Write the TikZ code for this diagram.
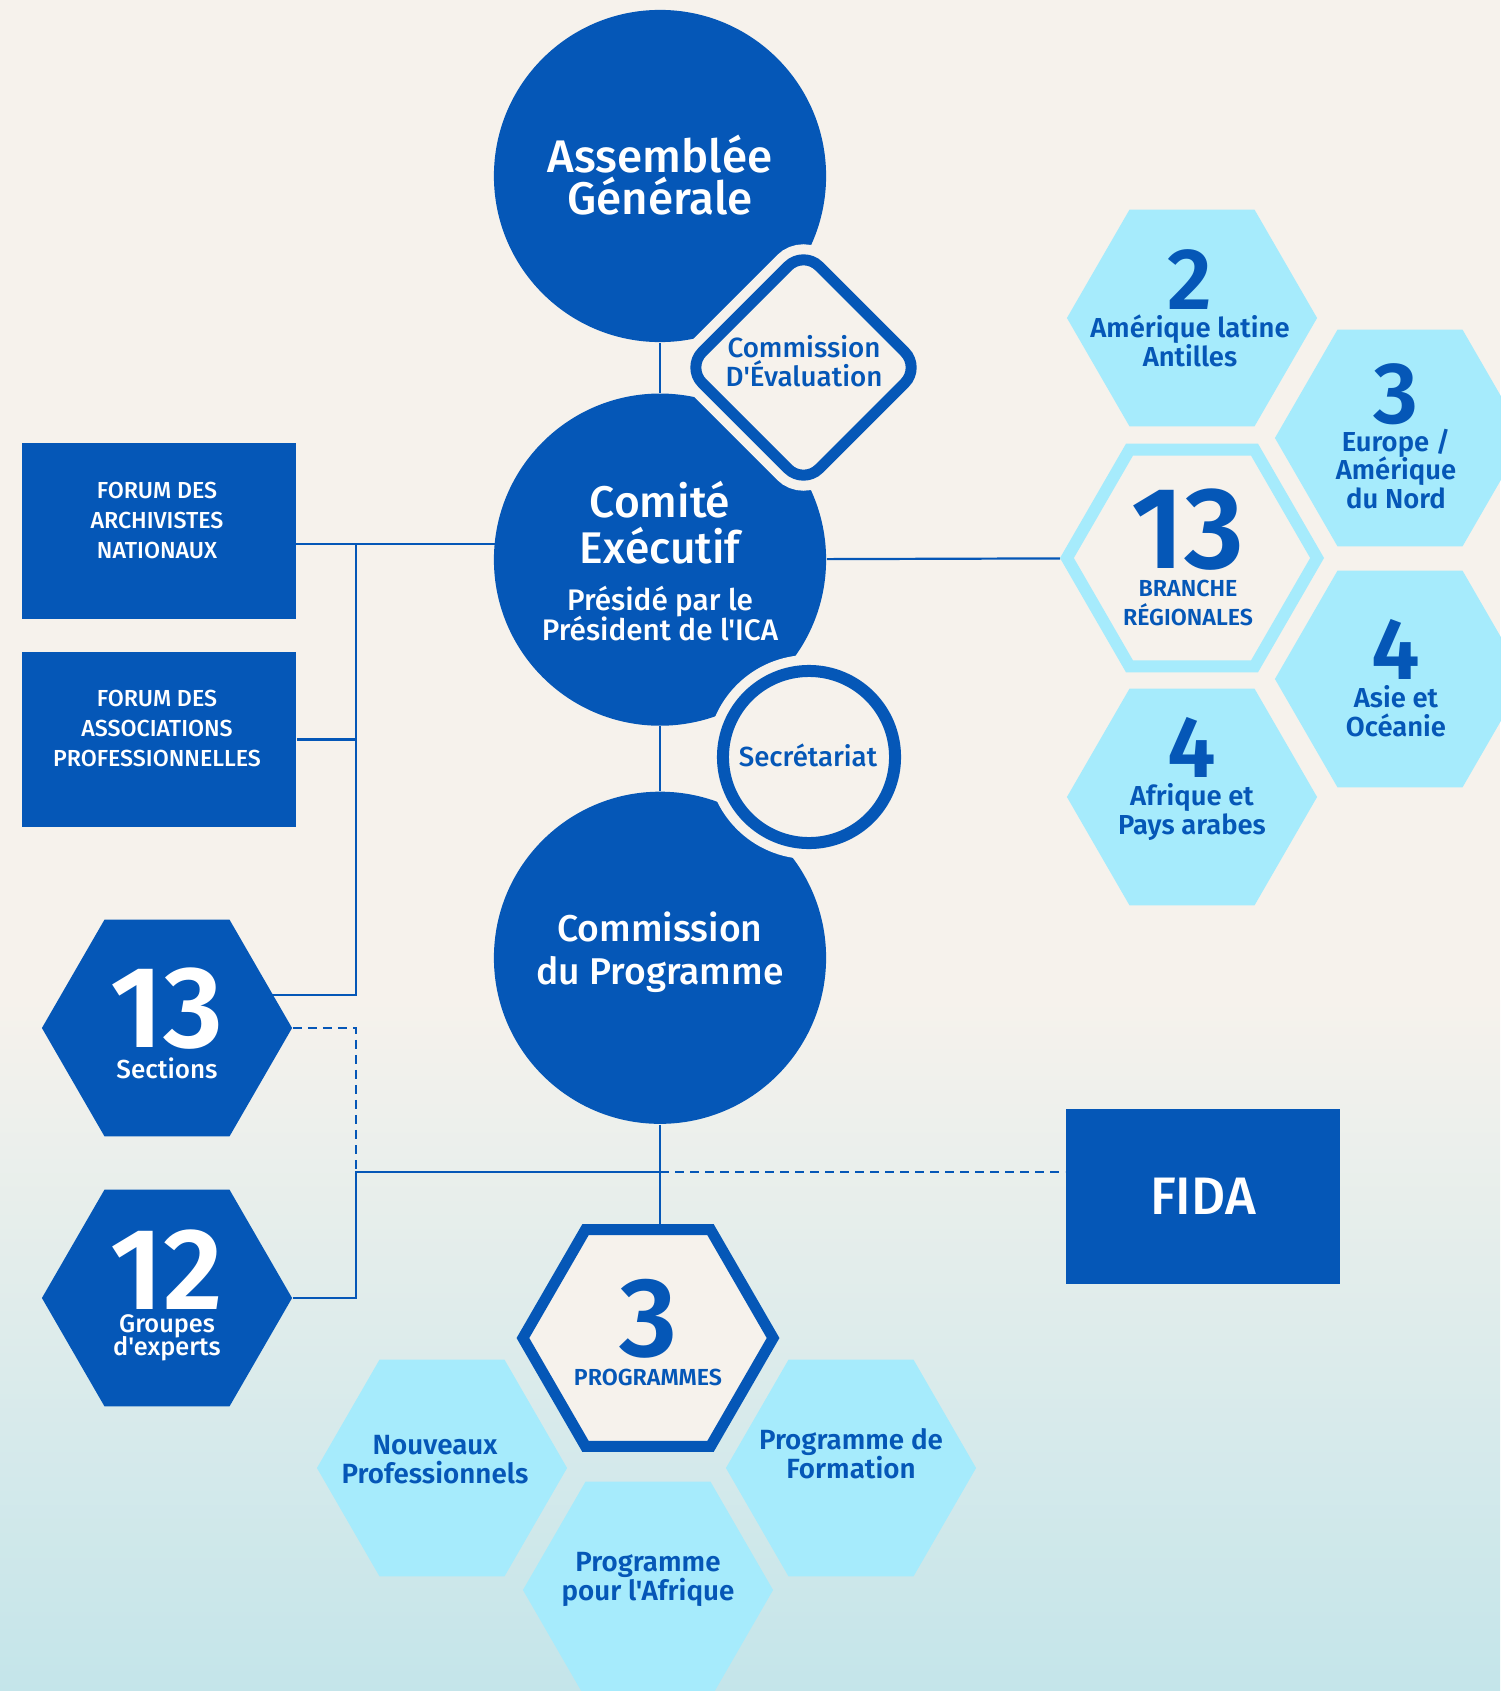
\documentclass[tikz,border=0pt]{standalone}
\usepackage{fontspec}
\setmainfont{Fira Sans}[UprightFont={* Medium}, BoldFont={* SemiBold}, Ligatures=TeXOff]
\usepackage{tikz}
\usetikzlibrary{shapes.geometric, positioning, backgrounds}
\definecolor{icaBlue}{RGB}{5,87,183}
\definecolor{hexBlue}{RGB}{166,235,252}
\definecolor{paper}{RGB}{246,242,236}
\definecolor{paperMid}{RGB}{232,238,236}
\definecolor{paperLow}{RGB}{196,229,234}
\newcommand{\tightskip}{\lineskiplimit -20pt\relax}
\newcommand{\bignum}[2]{{\bfseries\fontsize{#1}{#1}\selectfont #2}}
\tikzstyle{link} = [draw=icaBlue, line width=0.022cm]
\tikzstyle{dashlink} = [link, dash pattern=on 0.09cm off 0.06cm]
\tikzstyle{bigcircle} = [circle, fill=icaBlue, minimum size=3.32cm, inner sep=0pt]
\tikzstyle{ringcircle} = [circle, draw=icaBlue, line width=0.12cm, fill=paper, minimum size=1.72cm, inner sep=0pt, preaction={draw=paper, line width=0.32cm}]
\tikzstyle{rhomb} = [diamond, draw=icaBlue, line width=0.11cm, fill=paper, minimum width=2.38cm, minimum height=2.38cm, rounded corners=0.22cm, inner sep=0pt, preaction={draw=paper, line width=0.31cm}]
\tikzstyle{bluebox} = [rectangle, fill=icaBlue, minimum width=2.74cm, minimum height=1.75cm, inner sep=0pt]
\tikzset{
  hexagon/.style={regular polygon, regular polygon sides=6, minimum size=2.5cm, inner sep=0pt},
  darkhex/.style={hexagon, fill=icaBlue},
  lighthex/.style={hexagon, fill=hexBlue},
  ringhex/.style={hexagon, draw=hexBlue, line width=0.12cm, fill=paper},
  proghex/.style={hexagon, draw=icaBlue, line width=0.11cm, fill=paper},
  whitetext/.style={text=white, align=center, anchor=base, inner sep=0pt},
  bluetext/.style={text=icaBlue, align=center, anchor=base, inner sep=0pt},
  hexlabel/.style={bluetext, font=\bfseries\fontsize{7.8}{8}\selectfont\tightskip}
}

\begin{document}
\begin{tikzpicture}[x=0.01cm, y=-0.01cm]
  \useasboundingbox (0,0) rectangle (1500,1691);
  % central column
  \node (ag) [bigcircle] at (660,176) {};
  \node (ce) [bigcircle, below=0.5cm of ag] {};
  \node (cp) [bigcircle, below=0.645cm of ce] {};
  \node (ced) [rhomb] at (803.5,367.5) {};
  \node (sec) [ringcircle] at (809,757) {};
  % text anchors sit on the last baseline
  \node (agtxt) [whitetext, font=\fontsize{13}{12}\selectfont\tightskip] at (660,215) {Assemblée\\Générale};
  \node (cetxt) [whitetext, font=\fontsize{12.6}{12.8}\selectfont] at (660,563) {Comité\\Exécutif};
  \node (cesub) [whitetext, font=\fontsize{8.45}{8.5}\selectfont\tightskip] at (660,640) {Présidé par le\\Président de l'ICA};
  \node (cptxt) [whitetext, font=\fontsize{10.6}{12.2}\selectfont] at (660,984) {Commission\\du Programme};
  \node (cedtxt) [bluetext, font=\fontsize{7.9}{8}\selectfont\tightskip] at (804,386) {Commission\\D'Évaluation};
  \node (sectxt) [bluetext, font=\fontsize{7.85}{8}\selectfont] at (808,766) {Secrétariat};

  % left side
  \node (fan) [bluebox, minimum height=1.76cm] at (159,531) {};
  \node (fap) [bluebox] at (159,739.5) {};
  \node (fantxt) [whitetext, font=\fontsize{6.6}{8.5}\selectfont] at (157,558) {FORUM DES\\ARCHIVISTES\\NATIONAUX};
  \node (faptxt) [whitetext, font=\fontsize{6.6}{8.5}\selectfont] at (157,766) {FORUM DES\\ASSOCIATIONS\\PROFESSIONNELLES};
  \node (secn) [darkhex] at (167,1028) {};
  \node (grp) [darkhex] at (167,1298) {};
  \node (secntxt) [whitetext, font=\fontsize{7.4}{8.8}\selectfont] at (167,1078) {\bignum{33}{13}\\Sections};
  \node (grptxt) [whitetext, font=\fontsize{7.2}{6.5}\selectfont\tightskip] at (167,1355) {\bignum{33}{12}\\Groupes\\d'experts};

  % regional branches
  \node (h2) [lighthex] at (1192,318) {};
  \node (h3) [lighthex] at (1400,438) {};
  \node (h13) [ringhex] at (1192,558) {};
  \node (h4a) [lighthex] at (1400,679) {};
  \node (h4b) [lighthex] at (1192,797) {};
  \node (h2txt) [hexlabel] at (1190,366) {\bignum{24.8}{2}\\Amérique latine\\Antilles};
  \node (h3txt) [hexlabel] at (1396,508) {\bignum{24.8}{3}\\Europe /\\Amérique\\du Nord};
  \node (h13txt) [hexlabel, font=\bfseries\fontsize{6.6}{8}\selectfont\tightskip] at (1188,625) {\bignum{33}{13}\\BRANCHE\\RÉGIONALES};
  \node (h4atxt) [hexlabel] at (1396,736) {\bignum{24.8}{4}\\Asie et\\Océanie};
  \node (h4btxt) [hexlabel] at (1192,834) {\bignum{24.8}{4}\\Afrique et\\Pays arabes};

  % programmes
  \node (prog) [proghex] at (648,1338) {};
  \node (pnp) [lighthex] at (442,1468) {};
  \node (pfo) [lighthex] at (851,1468) {};
  \node (paf) [lighthex] at (648,1590) {};
  \node (progtxt) [hexlabel, font=\bfseries\fontsize{6.6}{8}\selectfont\tightskip] at (648,1385) {\bignum{32}{3}\\PROGRAMMES};
  \node (pnptxt) [hexlabel, font=\bfseries\fontsize{7.9}{8}\selectfont\tightskip] at (435,1483) {Nouveaux\\Professionnels};
  \node (pfotxt) [hexlabel, font=\bfseries\fontsize{7.9}{8}\selectfont\tightskip] at (851,1478) {Programme de\\Formation};
  \node (paftxt) [hexlabel, font=\bfseries\fontsize{7.9}{8}\selectfont\tightskip] at (648,1600) {Programme\\pour l'Afrique};

  \node (fida) [bluebox, text=white, font=\fontsize{15}{15}\selectfont] at (1203,1196.5) {FIDA};

  % connectors behind the shapes
  \coordinate (b1) at (356,544);
  \coordinate (b4) at (356,995);
  \coordinate (bj) at (356,1172);
  \coordinate (cj) at (660,1172);
  \begin{pgfonlayer}{background}
    \fill[paper] (0,0) rectangle (1500,1691);
    \shade[top color=paper, middle color=paperMid, bottom color=paperLow] (0,1000) rectangle (1500,1691);
    \draw[link] (ag) -- (ce);
    \draw[link] (ce) -- (cp);
    \draw[link] (cp) -- (cp |- prog.north);
    \draw[link] (ce) -- (h13);
    \draw[link] (fan.center |- b1) -- (ce.center |- b1);
    \draw[link] (b1) -- (b4) -- (secn.center |- b4);
    \draw[link] (fap) -- (fap -| b1);
    \draw[dashlink] (secn) -- (secn -| bj) -- (bj);
    \draw[link] (grp) -- (grp -| bj) -- (bj) -- (cj);
    \draw[dashlink] (cj) -- (cj -| fida.west);
  \end{pgfonlayer}
\end{tikzpicture}
\end{document}
